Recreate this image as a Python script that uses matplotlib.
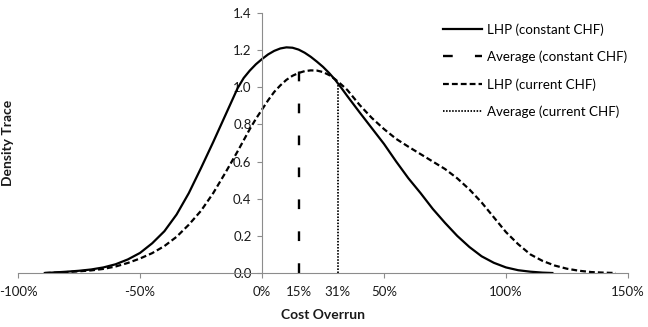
import matplotlib
matplotlib.use("Agg")
from matplotlib import pyplot as plt

# cost overrun in %, density trace
x_const = [-89, -85, -80, -75, -70, -65, -60, -55, -50, -45, -40, -35, -30,
           -25, -20, -15, -10, -7.5, -5, -2.5, 0, 2.5, 5, 7.5, 10, 12.5, 15,
           17.5, 20, 22.5, 25, 27.5, 30, 32.5, 35, 40, 45, 50, 55, 60, 65,
           70, 75, 80, 85, 90, 95, 100, 105, 110, 115, 119]
lhp_const = [0.0, 0.003, 0.007, 0.012, 0.019, 0.03, 0.047, 0.073, 0.108,
             0.16, 0.225, 0.315, 0.43, 0.565, 0.705, 0.85, 0.995, 1.05, 1.09,
             1.124, 1.152, 1.177, 1.196, 1.209, 1.215, 1.213, 1.203, 1.186,
             1.164, 1.138, 1.11, 1.077, 1.04, 0.997, 0.952, 0.865, 0.78,
             0.695, 0.60, 0.51, 0.43, 0.345, 0.27, 0.20, 0.14, 0.09, 0.055,
             0.03, 0.015, 0.007, 0.002, 0.0]

x_curr = [-89, -85, -80, -75, -70, -65, -60, -55, -50, -45, -40, -35, -30,
          -25, -20, -15, -10, -7.5, -5, -2.5, 0, 2.5, 5, 7.5, 10, 12.5, 15,
          17.5, 20, 22.5, 25, 27.5, 30, 32.5, 35, 40, 45, 50, 55, 60, 65, 70,
          75, 80, 85, 90, 95, 100, 105, 110, 115, 120, 125, 130, 135, 140,
          145]
lhp_curr = [0.0, 0.002, 0.005, 0.009, 0.014, 0.022, 0.035, 0.054, 0.078,
            0.107, 0.145, 0.195, 0.26, 0.335, 0.43, 0.54, 0.655, 0.715,
            0.775, 0.83, 0.88, 0.93, 0.975, 1.01, 1.04, 1.062, 1.077,
            1.087, 1.091, 1.09, 1.082, 1.066, 1.043, 1.015, 0.985, 0.905,
            0.835, 0.775, 0.722, 0.68, 0.64, 0.60, 0.56, 0.51, 0.45, 0.38,
            0.30, 0.22, 0.155, 0.10, 0.065, 0.04, 0.023, 0.012, 0.005,
            0.002, 0.0]

avg_const = 15
avg_const_top = 1.1
avg_curr = 31
avg_curr_top = 1.02

x_ticks = [-100, -50, 0, 15, 31, 50, 100, 150]
x_labels = ["-100%", "-50%", "0%", "15%", "31%", "50%", "100%", "150%"]
y_ticks = [0.0, 0.2, 0.4, 0.6, 0.8, 1.0, 1.2, 1.4]

plt.rcParams["font.family"] = ["Lato", "DejaVu Sans"]
plt.rcParams["lines.scale_dashes"] = False

fig = plt.figure(figsize=(6.48, 3.27), dpi=100)
ax = fig.add_axes([18 / 648, 54 / 327, 610 / 648, 260 / 327])

ax.plot(x_const, lhp_const, color="black", linewidth=1.6,
        label="LHP (constant CHF)")
ax.plot([avg_const, avg_const], [0, avg_const_top], color="black",
        linewidth=1.7, dashes=(7, 16), label="Average (constant CHF)")
ax.plot(x_curr, lhp_curr, color="black", linewidth=1.6, dashes=(4.2, 2.2),
        label="LHP (current CHF)")
ax.plot([avg_curr, avg_curr], [0, avg_curr_top], color="black",
        linewidth=1.3, dashes=(1.1, 1.1), label="Average (current CHF)")

ax.set_xlim(-100, 150)
ax.set_ylim(0, 1.4)

# y axis crosses at 0%
for side in ("top", "right"):
    ax.spines[side].set_visible(False)
ax.spines["left"].set_position(("data", 0))
for side in ("left", "bottom"):
    ax.spines[side].set_color("#8c8c8c")
    ax.spines[side].set_linewidth(0.8)

ax.set_xticks(x_ticks)
ax.set_xticklabels(x_labels)
ax.set_yticks(y_ticks)
ax.set_yticklabels([f"{v:.1f}" for v in y_ticks])
ax.tick_params(axis="both", direction="out", length=3.5, width=0.8,
               color="#8c8c8c", labelsize=9.5, labelcolor="#1a1a1a")
ax.tick_params(axis="x", pad=5.5)
ax.tick_params(axis="y", pad=4)

# 15% and 31% are only labels, no tick marks
for tick, val in zip(ax.xaxis.get_major_ticks(), x_ticks):
    if val in (avg_const, avg_curr):
        tick.tick1line.set_visible(False)

fig.text(323 / 648, 1 - 315 / 327, "Cost Overrun", ha="center", va="center",
         fontsize=10, fontweight="bold", color="#1a1a1a")
fig.text(8 / 648, 1 - 143 / 327, "Density Trace", ha="center", va="center",
         rotation=90, fontsize=10, fontweight="bold", color="#1a1a1a")

ax.legend(loc="upper left", bbox_to_anchor=(443 / 648, 1 - 23 / 327),
          bbox_transform=fig.transFigure, frameon=False, fontsize=9.6,
          handlelength=2.95, handletextpad=0.38, labelspacing=1.12,
          borderpad=0, borderaxespad=0)

fig.savefig("out.png", dpi=100)
